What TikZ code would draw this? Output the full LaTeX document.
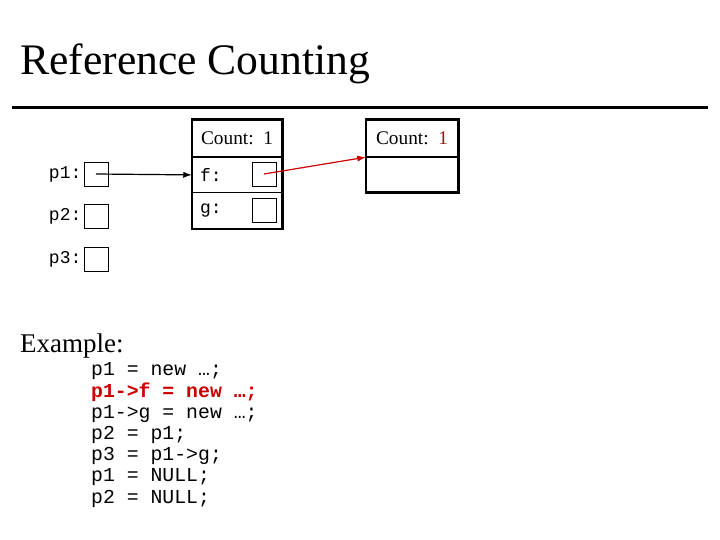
\documentclass[tikz,border=0pt]{standalone}
\usepackage{fontspec}
\setmainfont{Liberation Serif}
\setmonofont{Liberation Mono}
\usetikzlibrary{arrows.meta, positioning}
\definecolor{hotred}{RGB}{204,0,0}
\definecolor{darkred}{RGB}{160,20,20}

\begin{document}
\begin{tikzpicture}[x=1pt, y=-1pt, ptr/.style={draw, line width=0.8pt, minimum size=24pt, inner sep=0pt}, cell/.style={minimum width=90pt, inner sep=0pt, font=\fontsize{19.3}{19.3}\selectfont}, frame/.style={line width=2.6pt}, lbl/.style={font=\ttfamily\fontsize{18}{18}\selectfont, inner sep=0pt}, arrow/.style={-{Latex[length=3mm, width=2.2mm]}, line width=1.2pt}]

\useasboundingbox (0,0) rectangle (720,540);

\node[anchor=base west, inner sep=0pt, font=\fontsize{43.6}{43.6}\selectfont] (title) at (20,75) {Reference Counting};
\draw[line width=3pt] (12,108) -- (708,108);

% pointer variables
\node[ptr] (p1) at (96,174) {};
\node[ptr] (p2) at (96,216) {};
\node[ptr] (p3) at (96,259) {};
\node[lbl, left=2pt of p1] (p1lbl) {p1:};
\node[lbl, left=2pt of p2] (p2lbl) {p2:};
\node[lbl, left=2pt of p3] (p3lbl) {p3:};

% first object
\node[cell, minimum height=37pt] (cnt1) at (237,138.5) {Count:\ \ 1};
\node[cell, minimum height=35pt, below=0pt of cnt1] (f1) {};
\node[cell, minimum height=36pt, below=0pt of f1] (g1) {};
\draw[line width=1.6pt] (cnt1.south west) -- (cnt1.south east);
\draw[line width=0.8pt] (f1.south west) -- (f1.south east);
\draw[frame] (cnt1.north west) rectangle (g1.south east);
\node[lbl, anchor=west] (flbl) at ([xshift=8pt]f1.west) {f:};
\node[lbl, anchor=west] (glbl) at ([xshift=8pt]g1.west) {g:};
\node[ptr] (fptr) at (264,174) {};
\node[ptr] (gptr) at (264,210) {};

% second object
\node[cell, minimum width=92pt, minimum height=37pt] (cnt2) at (412,138.5) {Count:\ \ \textcolor{darkred}{1}};
\node[cell, minimum width=92pt, minimum height=35pt, below=0pt of cnt2] (f2) {};
\draw[line width=1.6pt] (cnt2.south west) -- (cnt2.south east);
\draw[frame] (cnt2.north west) rectangle (f2.south east);

\draw[arrow] (p1.center) -- (f1.west);
\draw[arrow, hotred] (fptr.center) -- (cnt2.south west);

% example code
\node[anchor=base west, inner sep=0pt, font=\fontsize{27}{27}\selectfont] (example) at (20,352) {Example:};
\node[anchor=base west, inner sep=0pt, align=left, font=\ttfamily\fontsize{19.8}{21.2}\selectfont] (code) at (91,503) {p1 = new …;\\
{\bfseries\color{hotred}p1->f = new …;}\\
p1->g = new …;\\
p2 = p1;\\
p3 = p1->g;\\
p1 = NULL;\\
p2 = NULL;};

\end{tikzpicture}
\end{document}
